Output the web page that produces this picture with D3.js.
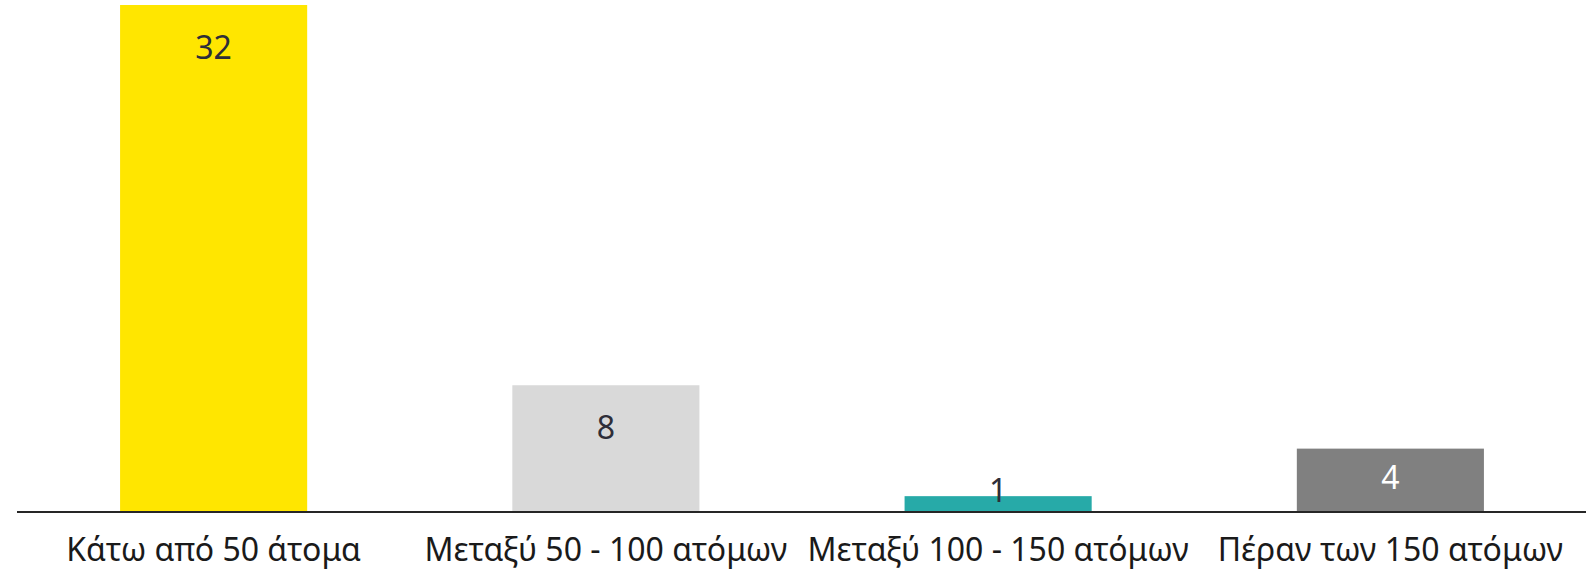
<!DOCTYPE html>
<html>
<head>
<meta charset="utf-8">
<script src="https://cdn.jsdelivr.net/npm/d3@7"></script>
<style>
    html, body { margin: 0; padding: 0; background: #ffffff; }
    svg { display: block; }
</style>
</head>
<body>
<div id="chart"></div>
<script>
'use strict';

const categories = ['Κάτω από 50 άτομα', 'Μεταξύ 50 - 100 ατόμων', 'Μεταξύ 100 - 150 ατόμων', 'Πέραν των 150 ατόμων'];
const values = [32, 8, 1, 4];
const barColours = ['#ffe600', '#d9d9d9', '#27aaa8', '#808080'];
const labelColours = ['#2e2e38', '#2e2e38', '#2e2e38', '#ffffff'];

function drawBarChart() {
    const width = 1594;
    const height = 572;
    const baseline = 512;
    const font = '"Noto Sans", "DejaVu Sans", sans-serif';

    const svg = d3.select('#chart')
        .append('svg')
        .attr('width', width)
        .attr('height', height);

    const data = categories.map(function (c, i) {
        return { category: c, value: values[i], fill: barColours[i], labelFill: labelColours[i] };
    });

    const xScale = d3.scaleBand()
        .domain(categories)
        .range([17.5, 1586.5])
        .paddingInner(0.523)
        .paddingOuter(0.2615);

    const yScale = d3.scaleLinear()
        .domain([0, 32])
        .range([baseline, 5]);

    svg.selectAll('rect.bar')
        .data(data)
        .join('rect')
        .attr('class', 'bar')
        .attr('x', function (d) { return xScale(d.category); })
        .attr('y', function (d) { return yScale(d.value); })
        .attr('width', xScale.bandwidth())
        .attr('height', function (d) { return baseline - yScale(d.value); })
        .attr('fill', function (d) { return d.fill; });

    // axis line along the bottom
    const xAxis = d3.axisBottom(xScale).tickSize(0).tickPadding(26);

    const axisG = svg.append('g')
        .attr('transform', `translate(0,${baseline})`)
        .call(xAxis);

    axisG.select('.domain')
        .attr('d', 'M17,0H1586')
        .attr('stroke', '#262626')
        .attr('stroke-width', 2);

    axisG.selectAll('.tick text')
        .attr('font-family', font)
        .attr('font-size', 32)
        .attr('fill', '#1a1a1a')
        .attr('dy', '0.71em');

    // value labels near the top of each bar
    svg.selectAll('text.value')
        .data(data)
        .join('text')
        .attr('class', 'value')
        .attr('x', function (d) { return xScale(d.category) + xScale.bandwidth() / 2; })
        .attr('y', function (d) {
            const top = yScale(d.value);
            const h = baseline - top;
            return Math.min(top + 42, top + 0.45 * h, baseline - 22);
        })
        .attr('dy', '0.36em')
        .attr('text-anchor', 'middle')
        .attr('font-family', font)
        .attr('font-size', 32)
        .attr('fill', function (d) { return d.labelFill; })
        .text(function (d) { return d.value; });
}

drawBarChart();
</script>
</body>
</html>
